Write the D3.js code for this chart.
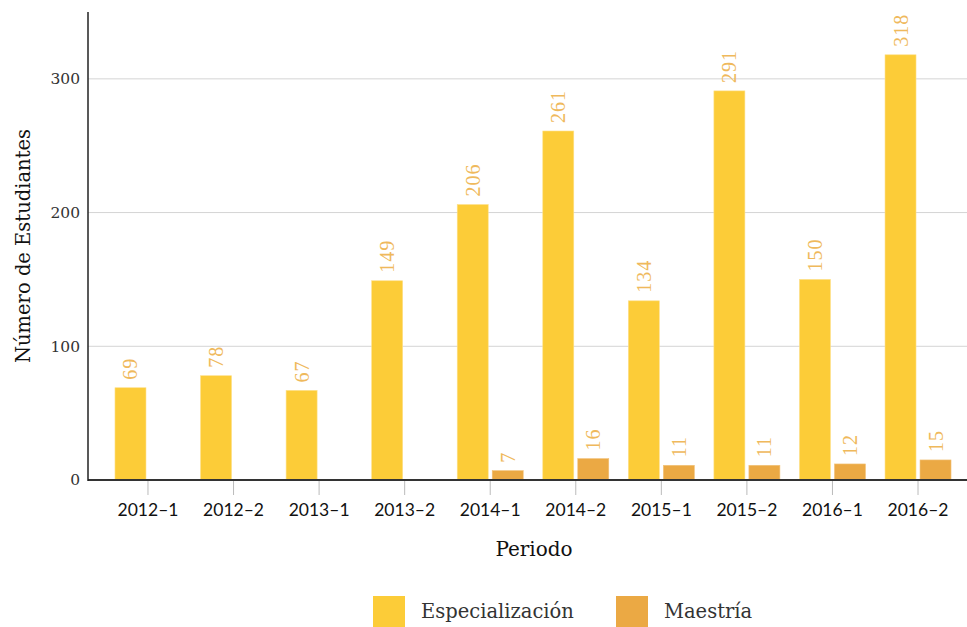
<!DOCTYPE html>
<html lang="es">
<head>
<meta charset="UTF-8">
<script src="https://d3js.org/d3.v7.min.js"></script>
<style>
  body { margin: 0; background: #fff; }
</style>
</head>
<body>
<script>
// Data
const periods = ['2012–1', '2012–2', '2013–1', '2013–2', '2014–1', '2014–2', '2015–1', '2015–2', '2016–1', '2016–2'];
const especializacion = [69, 78, 67, 149, 206, 261, 134, 291, 150, 318];
const maestria = [null, null, null, null, 7, 16, 11, 11, 12, 15];
const seriesNames = ['Especialización', 'Maestría'];
const yTicks = [0, 100, 200, 300];

const colors = ['#fccc38', '#eba944'];
const labelColor = '#efb95c';

const W = 967, H = 627;
const svg = d3.select('body').append('svg')
    .attr('width', W)
    .attr('height', H);

const x = d3.scaleBand()
    .domain(periods)
    .range([105.2, 960.8]);

const y = d3.scaleLinear()
    .domain([0, 350])
    .range([480, 12]);

// gridlines
svg.append('g')
    .selectAll('line')
    .data(yTicks.filter(d => d > 0))
    .enter().append('line')
    .attr('x1', 88).attr('x2', W)
    .attr('y1', d => y(d)).attr('y2', d => y(d))
    .attr('stroke', '#d4d4d4')
    .attr('stroke-width', 1);

// y tick labels
svg.append('g')
    .selectAll('text')
    .data(yTicks)
    .enter().append('text')
    .attr('x', 80)
    .attr('y', d => y(d))
    .attr('dy', '0.35em')
    .attr('text-anchor', 'end')
    .style('font-family', '"DejaVu Serif", serif')
    .attr('font-size', 15.5)
    .attr('fill', '#333')
    .text(d => d);

const barW = 31, gap = 2;

// bars
const rows = periods.map((p, i) => ({ p, vals: [especializacion[i], maestria[i]] }));
const groups = svg.append('g').selectAll('g')
    .data(rows)
    .enter().append('g');

groups.each(function(d) {
    const g = d3.select(this);
    const cx = x(d.p) + x.bandwidth() / 2;
    d.vals.forEach((v, k) => {
        if (v == null) return;
        const bx = k === 0 ? cx - gap - barW : cx + gap;
        g.append('rect')
            .attr('x', bx)
            .attr('y', y(v))
            .attr('width', barW)
            .attr('height', y(0) - y(v))
            .attr('fill', colors[k])
            .attr('stroke', k === 0 ? '#fde08a' : '#f2c27a')
            .attr('stroke-width', 0.6);
        g.append('text')
            .attr('transform', `translate(${bx + barW / 2 + 7}, ${y(v) - 8}) rotate(-90)`)
            .style('font-family', '"Liberation Serif", serif')
            .attr('font-size', 20)
            .attr('letter-spacing', 1)
            .attr('fill', labelColor)
            .text(v);
    });
});

// x axis line
svg.append('line')
    .attr('x1', 88).attr('x2', W)
    .attr('y1', 480).attr('y2', 480)
    .attr('stroke', '#333')
    .attr('stroke-width', 2);

// y axis line
svg.append('line')
    .attr('x1', 88).attr('x2', 88)
    .attr('y1', 12).attr('y2', 481)
    .attr('stroke', '#222')
    .attr('stroke-width', 1.5);

// x ticks
const xt = svg.append('g').selectAll('g')
    .data(periods)
    .enter().append('g')
    .attr('transform', d => `translate(${x(d) + x.bandwidth() / 2}, 0)`);
xt.append('line')
    .attr('y1', 481).attr('y2', 495)
    .attr('stroke', '#bbb');
xt.append('text')
    .attr('y', 516)
    .attr('text-anchor', 'middle')
    .style('font-family', 'Lato, sans-serif')
    .attr('font-size', 17.5)
    .attr('fill', '#111')
    .text(d => d);

// axis titles
svg.append('text')
    .attr('x', 534).attr('y', 556)
    .attr('text-anchor', 'middle')
    .style('font-family', '"DejaVu Serif", serif')
    .attr('font-size', 20)
    .attr('fill', '#111')
    .text('Periodo');

svg.append('text')
    .attr('transform', 'translate(30, 246) rotate(-90)')
    .attr('text-anchor', 'middle')
    .style('font-family', '"DejaVu Serif", serif')
    .attr('font-size', 19.5)
    .attr('fill', '#111')
    .text('Número de Estudiantes');

// legend
const legendX = [373, 616];
const leg = svg.append('g').selectAll('g')
    .data(seriesNames)
    .enter().append('g')
    .attr('transform', (d, i) => `translate(${legendX[i]}, 596)`);
leg.append('rect')
    .attr('width', 32).attr('height', 32)
    .attr('fill', (d, i) => colors[i]);
leg.append('text')
    .attr('x', 48).attr('y', 15)
    .attr('dy', '0.35em')
    .style('font-family', '"DejaVu Serif", serif')
    .attr('font-size', 19.5)
    .attr('fill', '#333')
    .text(d => d);
</script>
</body>
</html>
